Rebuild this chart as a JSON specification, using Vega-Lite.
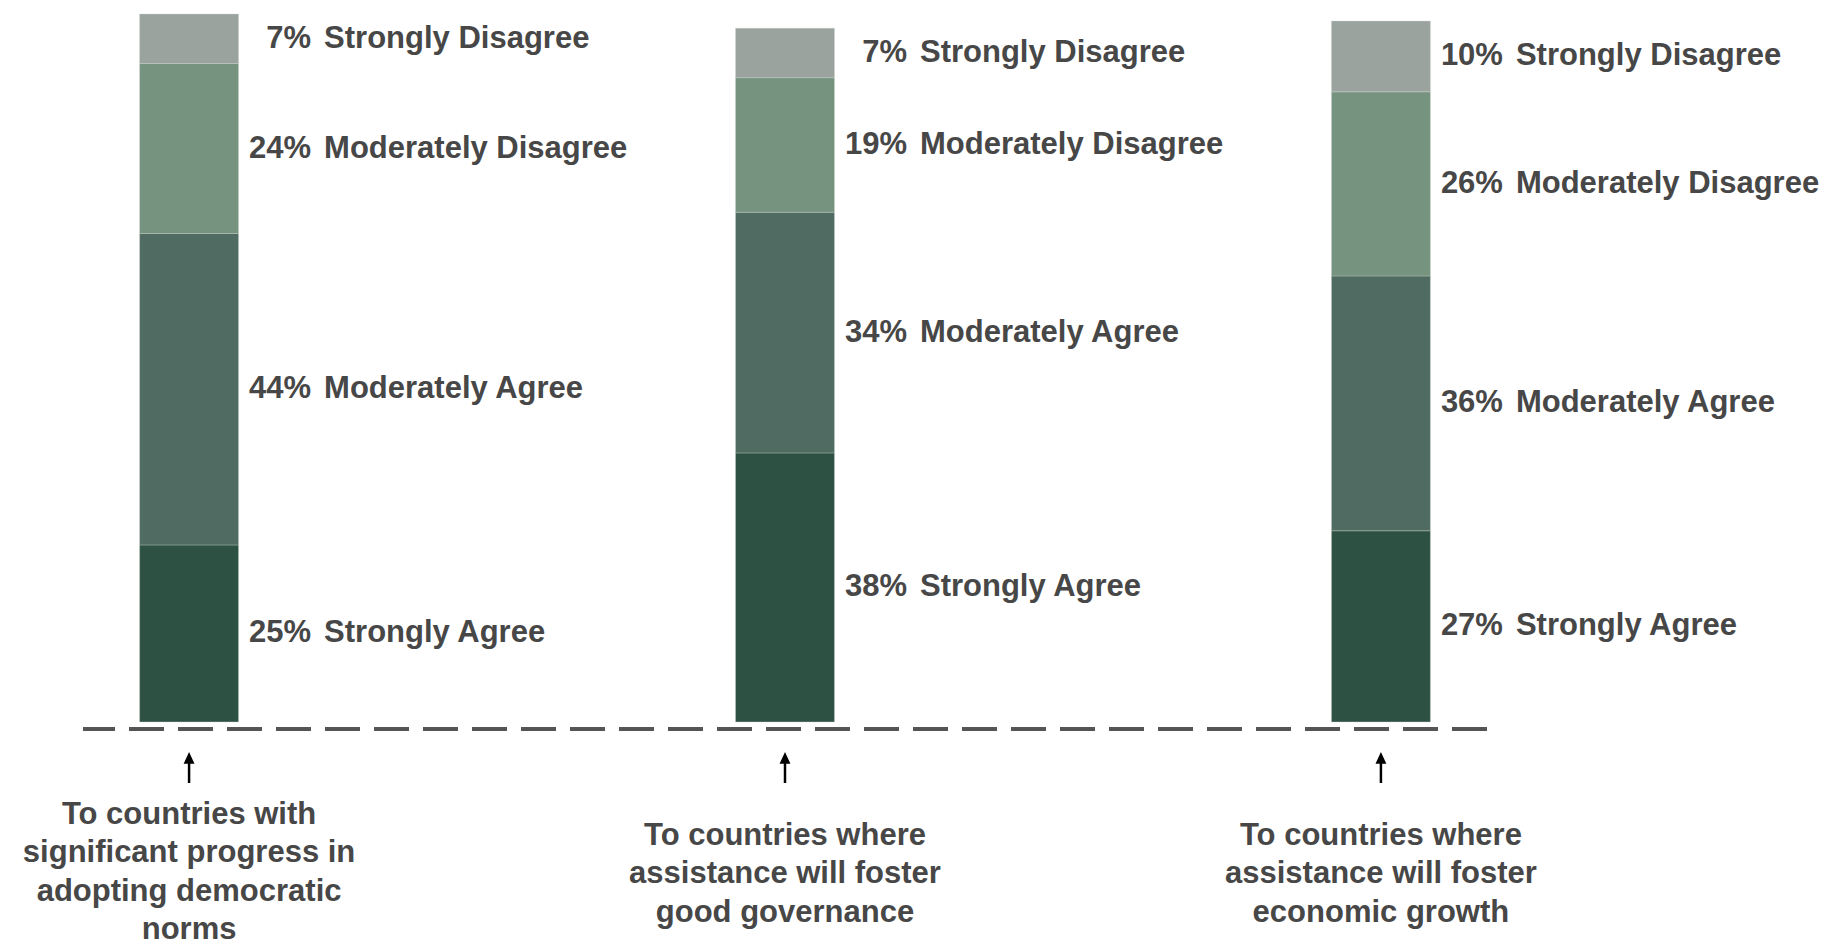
{
  "$schema": "https://vega.github.io/schema/vega-lite/v6.json",
  "width": 1404,
  "height": 715,
  "autosize": {"type": "none"},
  "padding": {"left": 83, "top": 14, "right": 342, "bottom": 217},
  "background": "#ffffff",
  "config": {
    "view": {"stroke": null},
    "font": "Liberation Sans",
    "axisX": {
      "title": null, "domain": false, "ticks": false, "tickSize": 0,
      "labelAngle": 0, "labelBaseline": "middle", "labelAlign": "center",
      "labelLimit": 700, "labelOverlap": false,
      "labelFont": "Liberation Sans", "labelFontSize": 31, "labelFontWeight": "bold",
      "labelColor": "#474747", "labelLineHeight": 38.5, "grid": false
    }
  },
  "data": {
    "values": [
      {"q": "To countries with|significant progress in|adopting democratic|norms", "response": "Strongly Agree", "rank": 1, "value": 0.25},
      {"q": "To countries with|significant progress in|adopting democratic|norms", "response": "Moderately Agree", "rank": 2, "value": 0.44},
      {"q": "To countries with|significant progress in|adopting democratic|norms", "response": "Moderately Disagree", "rank": 3, "value": 0.24},
      {"q": "To countries with|significant progress in|adopting democratic|norms", "response": "Strongly Disagree", "rank": 4, "value": 0.07},
      {"q": "To countries where|assistance will foster|good governance", "response": "Strongly Agree", "rank": 1, "value": 0.38},
      {"q": "To countries where|assistance will foster|good governance", "response": "Moderately Agree", "rank": 2, "value": 0.34},
      {"q": "To countries where|assistance will foster|good governance", "response": "Moderately Disagree", "rank": 3, "value": 0.19},
      {"q": "To countries where|assistance will foster|good governance", "response": "Strongly Disagree", "rank": 4, "value": 0.07},
      {"q": "To countries where|assistance will foster|economic growth", "response": "Strongly Agree", "rank": 1, "value": 0.27},
      {"q": "To countries where|assistance will foster|economic growth", "response": "Moderately Agree", "rank": 2, "value": 0.36},
      {"q": "To countries where|assistance will foster|economic growth", "response": "Moderately Disagree", "rank": 3, "value": 0.26},
      {"q": "To countries where|assistance will foster|economic growth", "response": "Strongly Disagree", "rank": 4, "value": 0.10}
    ]
  },
  "layer": [
    {
      "mark": {"type": "bar", "stroke": "#c9d1cb", "strokeWidth": 0.6, "strokeOpacity": 0.6},
      "encoding": {
        "x": {
          "field": "q", "type": "nominal", "sort": null,
          "scale": {"paddingInner": 0.834, "paddingOuter": 0.095},
          "axis": {
            "labelExpr": "split(datum.label, '|')",
            "labelPadding": {"condition": {"test": "indexof(datum.value, 'norms') >= 0", "value": 85}, "value": 106}
          }
        },
        "y": {
          "field": "value", "type": "quantitative", "stack": "zero",
          "scale": {"domain": [-0.01, 1], "nice": false, "zero": false},
          "axis": null
        },
        "order": {"field": "rank", "type": "quantitative"},
        "color": {
          "field": "response", "type": "nominal",
          "scale": {
            "domain": ["Strongly Agree", "Moderately Agree", "Moderately Disagree", "Strongly Disagree"],
            "range": ["#2d5143", "#506b61", "#76937f", "#9ba39f"]
          },
          "legend": null
        }
      }
    },
    {
      "data": {"values": [{"line": "baseline"}]},
      "mark": {"type": "rule", "stroke": "#555555", "strokeWidth": 4, "strokeDash": [35, 14]},
      "encoding": {
        "y": {"datum": -0.01, "type": "quantitative"}
      }
    },
    {
      "transform": [{"filter": "datum.rank == 1"}],
      "mark": {
        "type": "point", "filled": true, "color": "#000000", "opacity": 1, "strokeWidth": 0,
        "shape": "M0,-1L-0.35,-0.25L-0.08,-0.25L-0.08,1L0.08,1L0.08,-0.25L0.35,-0.25Z",
        "size": 961
      },
      "encoding": {
        "x": {"field": "q", "type": "nominal", "sort": null, "axis": {
            "labelExpr": "split(datum.label, '|')",
            "labelPadding": {"condition": {"test": "indexof(datum.value, 'norms') >= 0", "value": 85}, "value": 106}
          }},
        "y": {"datum": -0.0644, "type": "quantitative"}
      }
    },
    {
      "mark": {"type": "text", "align": "right", "baseline": "middle", "dx": 122, "font": "Liberation Sans", "fontSize": 31, "fontWeight": "bold", "color": "#474747"},
      "encoding": {
        "x": {"field": "q", "type": "nominal", "sort": null, "axis": {
            "labelExpr": "split(datum.label, '|')",
            "labelPadding": {"condition": {"test": "indexof(datum.value, 'norms') >= 0", "value": 85}, "value": 106}
          }},
        "y": {"field": "value", "type": "quantitative", "stack": "zero", "bandPosition": 0.5},
        "order": {"field": "rank", "type": "quantitative"},
        "detail": {"field": "response", "type": "nominal"},
        "text": {"field": "value", "type": "quantitative", "format": ".0%"}
      }
    },
    {
      "mark": {"type": "text", "align": "left", "baseline": "middle", "dx": 135, "font": "Liberation Sans", "fontSize": 31, "fontWeight": "bold", "color": "#474747"},
      "encoding": {
        "x": {"field": "q", "type": "nominal", "sort": null, "axis": {
            "labelExpr": "split(datum.label, '|')",
            "labelPadding": {"condition": {"test": "indexof(datum.value, 'norms') >= 0", "value": 85}, "value": 106}
          }},
        "y": {"field": "value", "type": "quantitative", "stack": "zero", "bandPosition": 0.5},
        "order": {"field": "rank", "type": "quantitative"},
        "detail": {"field": "response", "type": "nominal"},
        "text": {"field": "response", "type": "nominal"}
      }
    }
  ]
}
